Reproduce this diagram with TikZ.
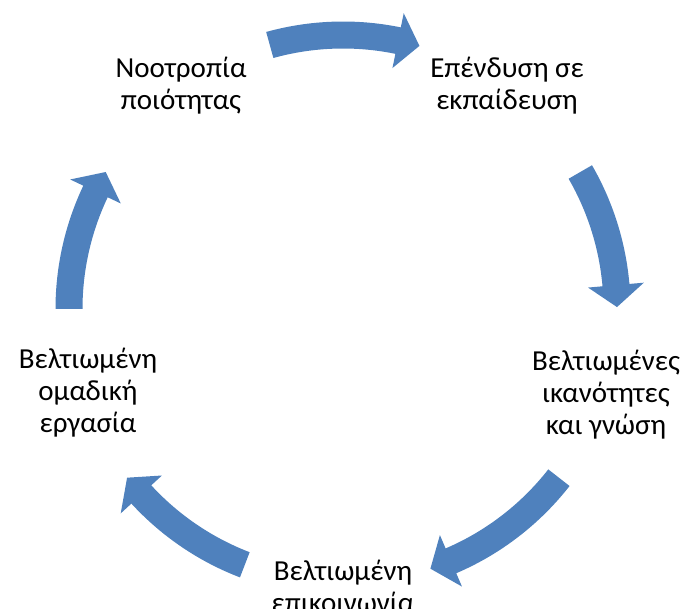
\documentclass[tikz,border=0pt]{standalone}
\usepackage{fontspec}
\setmainfont{Carlito}
\definecolor{arrowblue}{HTML}{4F81BD}
\tikzset{
  lbl/.style={align=center, font=\fontsize{29}{32}\selectfont, text=black, inner sep=0pt},
}
% curved block arrow: #1 tail angle, #2 tip angle (clockwise, #1 > #2)
\newcommand{\cyclearrow}[2]{%
  \pgfmathsetmacro{\hb}{#2+4.6}%
  \fill[arrowblue] (#1:287.5) arc[start angle=#1, end angle=\hb, radius=287.5]
     -- (\hb:302) -- (#2:274) -- (\hb:246) -- (\hb:260.5)
     arc[start angle=\hb, end angle=#1, radius=260.5] -- cycle;
}
\begin{document}
\begin{tikzpicture}[x=1pt,y=1pt]
\useasboundingbox (0,0) rectangle (685,-609);
\clip (0,0) rectangle (685,-609);
\begin{scope}[shift={(343,-309)}]
  \cyclearrow{105.5}{73.8}
  \cyclearrow{30}{0.4}
  \cyclearrow{-38}{-71.4}
  \cyclearrow{-111}{-142}
  \cyclearrow{180}{150}
\end{scope}
\node[lbl] (n1) at (181,-86) {Νοοτροπία\\ποιότητας};
\node[lbl] (n2) at (507,-86) {Επένδυση σε\\εκπαίδευση};
\node[lbl] (n3) at (606,-395) {Βελτιωμένες\\ικανότητες\\και γνώση};
\node[lbl] (n4) at (343,-586) {Βελτιωμένη\\επικοινωνία};
\node[lbl] (n5) at (88,-393) {Βελτιωμένη\\ομαδική\\εργασία};
\end{tikzpicture}
\end{document}
